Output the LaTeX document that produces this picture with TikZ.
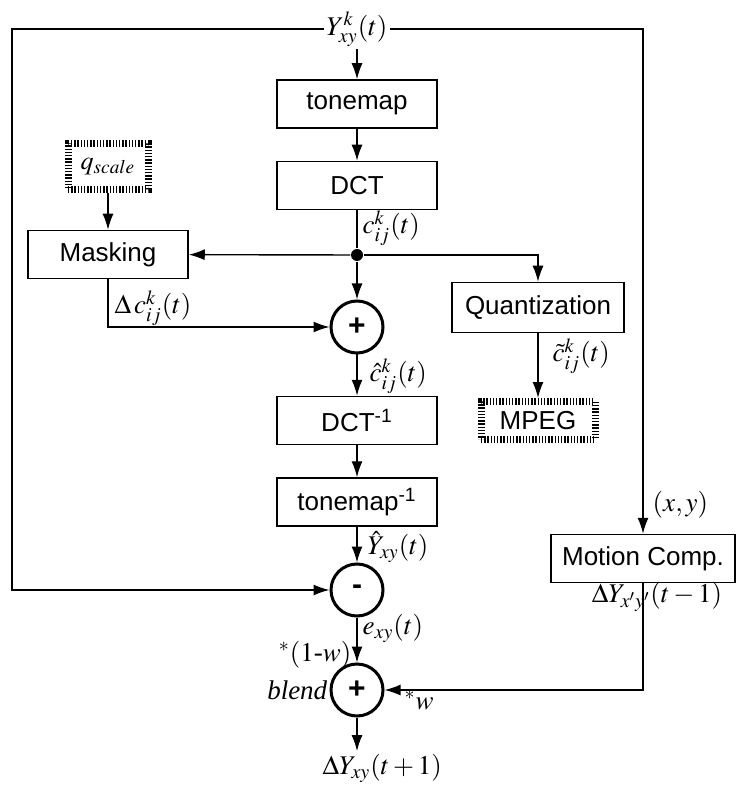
\documentclass[tikz,border=0pt]{standalone}
\usepackage{mathptmx}
\usepackage[no-math]{fontspec}
\setmainfont{Liberation Serif}
\setsansfont{Liberation Sans}
\usepackage{tikz}
\usetikzlibrary{arrows.meta,positioning}

\begin{document}
\begin{tikzpicture}[x=0.5pt,y=-0.5pt, line width=0.7pt,
  every node/.style={font=\fontsize{13.5}{15}\selectfont},
  box/.style={draw,line width=0.75pt,minimum width=80pt,minimum height=24pt,inner sep=2pt,font=\sffamily\fontsize{13}{15}\selectfont},
  src/.style={draw,line width=3.5pt,dash pattern=on 0.7pt off 0.9pt,inner sep=2pt,font=\sffamily\fontsize{13}{15}\selectfont},
  sum/.style={circle,draw,line width=1.5pt,minimum size=26pt,inner sep=0pt,font=\sffamily\bfseries\fontsize{15}{16}\selectfont},
  lbl/.style={inner sep=1pt},
  arr/.style={-{Latex[length=8pt,width=5.5pt]}}]
\useasboundingbox (0,0) rectangle (737,785);
% main column
\node[lbl] (yin) at (357,29) {$Y^{k}_{xy}(t)$};
\node[box] (tm) at (357,104) {tonemap};
\node[box,below=16pt of tm] (dct) {DCT};
\node[circle,fill,inner sep=0pt,minimum size=6pt] (split) at (357,255) {};
\node[sum] (add) at (357,327) {+};
\node[box] (idct) at (357,420.5) {DCT\textsuperscript{-1}};
\node[box,below=16pt of idct] (itm) {tonemap\textsuperscript{-1}};
\node[sum] (sub) at (357,590) {-};
\node[sum] (blend) at (357,690) {+};
\node[lbl,anchor=west] (yout) at (320,768) {$\Delta Y_{xy}(t+1)$};
% side blocks
\node[src,minimum width=40pt,minimum height=23pt] (qs) at (108,166.5) {$q_{scale}$};
\node[box] (mask) at (108,254.5) {Masking};
\node[box,minimum width=86pt,minimum height=25pt] (quant) at (538,307.5) {Quantization};
\node[src,minimum width=57pt,minimum height=19pt] (mpeg) at (538,420.5) {MPEG};
\node[box,minimum width=92pt] (mc) at (643,558.5) {Motion Comp.};
\coordinate (tl) at (12,29); \coordinate (tr) at (643,29);
% labels
\node[lbl,anchor=west] (lc) at (360,228) {$c^{k}_{ij}(t)$};
\node[lbl,anchor=west] (ldc) at (112,308) {$\Delta\,c^{k}_{ij}(t)$};
\node[lbl,anchor=west] (lch) at (367,376) {$\hat{c}^{k}_{ij}(t)$};
\node[lbl,anchor=west] (lct) at (550,356) {$\tilde{c}^{k}_{ij}(t)$};
\node[lbl,anchor=west] (lyh) at (365,547) {$\hat{Y}_{xy}(t)$};
\node[lbl,anchor=west] (le) at (360,628) {$e_{xy}(t)$};
\node[lbl,anchor=east] (lw1) at (354,655) {$^{*}(1$-$w)$};
\node[lbl,anchor=east] (lbl) at (330,690) {\textit{blend}};
\node[lbl,anchor=west] (lw) at (402,700) {$^{*}w$};
\node[lbl,anchor=west] (lxy) at (650,505) {$(x,y)$};
\node[lbl] (ldy) at (657,597) {$\Delta Y_{x'y'}(t-1)$};
% connectors
\draw[arr] (yin) -- (tm); \draw[arr] (tm) -- (dct); \draw (dct) -- (split);
\draw[arr] (split) -- (add); \draw[arr] (split) -- (mask); \draw[arr] (split) -| (quant);
\draw[arr] (qs) -- (mask); \draw[arr] (mask) |- (add);
\draw[arr] (add) -- (idct); \draw[arr] (idct) -- (itm); \draw[arr] (itm) -- (sub);
\draw[arr] (sub) -- (blend); \draw[arr] (blend) -- (blend |- yout.north);
\draw[arr] (quant) -- (mpeg);
\draw[arr] (yin) -- (tl) |- (sub);
\draw[arr] (yin) -- (tr) -- (mc);
\draw[arr] (mc) |- (blend);
\end{tikzpicture}
\end{document}
